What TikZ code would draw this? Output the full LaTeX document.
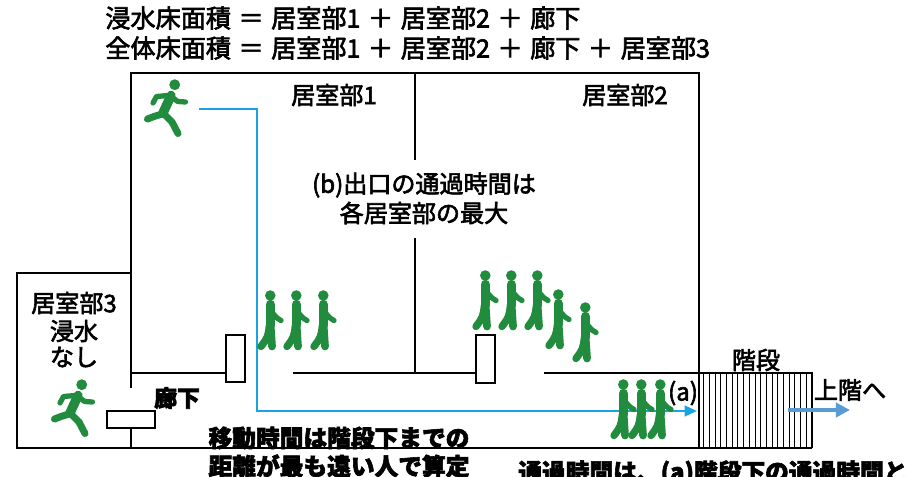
\documentclass[tikz,border=0pt]{standalone}
\usepackage{fontspec}
\setmainfont{Noto Sans CJK JP}[FakeBold=2.5]
\usetikzlibrary{arrows.meta, positioning}
\definecolor{figgreen}{HTML}{218C3D}
\definecolor{routeblue}{HTML}{1AA3E1}
\definecolor{upblue}{HTML}{5B9BD5}
\newcommand\op[1]{\hspace{0.3em}#1\hspace{0.3em}}

\tikzset{
  wall/.style={line width=1.5pt},
  door/.style={draw, line width=1.2pt, fill=white, inner sep=0pt},
  txt/.style={inner sep=0pt, font=\fontsize{13.7}{16}\selectfont},
  % walking person, origin at the foot of the back leg
  walker/.pic={
    \fill[figgreen] (-1.7,-54.5) circle[radius=3pt];
    \draw[figgreen, line width=5.4pt, line cap=round] (-1.7,-45.5) -- (-1.7,-25);
    \draw[figgreen, line width=4.4pt, line cap=round] (-1.5,-26) -- (0,-3.5);
    \draw[figgreen, line width=4.2pt, line cap=round] (-2.5,-25) .. controls (-4,-13) .. (-11,-3.5);
    \draw[figgreen, line width=3pt, line cap=round, line join=round] (0.5,-37) -- (5,-32) -- (9,-29.5);
  },
  % running person, origin at the hip
  runner/.pic={
    \fill[figgreen] (11.7,-28.3) circle[radius=3.1pt];
    \draw[figgreen, line width=5.4pt, line cap=round] (0,0) -- (8,-17.5);
    \draw[figgreen, line width=3pt, line cap=round, line join=round] (8,-16.5) -- (14.7,-11.5) -- (22.5,-11);
    \draw[figgreen, line width=3pt, line cap=round, line join=round] (5,-17.5) -- (-6.5,-16.5) -- (-10,-10);
    \draw[figgreen, line width=4pt, line cap=round, line join=round] (-1,1) -- (-9,3.5) -- (-15.5,6);
    \draw[figgreen, line width=4pt, line cap=round, line join=round] (1,1) -- (9,9) -- (15,20.5);
  },
}

\begin{document}
\begin{tikzpicture}[x=0.02cm, y=-0.02cm]
  \useasboundingbox (0,0) rectangle (911,476);
  \clip (0,0) rectangle (911,476);

  % floor areas
  \node[txt, anchor=west, font=\fontsize{14.3}{16}\selectfont] (flooded) at (105,18) {浸水床面積\op{＝}居室部1\op{＋}居室部2\op{＋}廊下};
  \node[txt, anchor=west, font=\fontsize{14.3}{16}\selectfont] (total) at (105,48) {全体床面積\op{＝}居室部1\op{＋}居室部2\op{＋}廊下\op{＋}居室部3};

  % walls
  \draw[wall] (131,388) -- (131,73) -- (699,73) -- (699,448);
  \draw[wall] (415,73) -- (415,160);
  \draw[wall] (415,238) -- (415,373);
  \draw[wall] (131,373) -- (226,373);
  \draw[wall] (293,373) -- (476,373);
  \draw[wall] (544,373) -- (812,373) -- (812,448);
  \draw[wall] (131,273) -- (17,273) -- (17,448) -- (812,448);
  \draw[wall] (131,428) -- (131,448);

  % stairs
  \foreach \k in {1,...,19}
    \draw[line width=0.5pt] ({698+5.7*\k},373) -- ({698+5.7*\k},448);

  % doors
  \node[door, minimum width=19*0.02cm, minimum height=47*0.02cm] (door1) at (235.5,358.5) {};
  \node[door, minimum width=19*0.02cm, minimum height=48*0.02cm] (door2) at (485.5,359) {};
  \node[door, minimum width=48*0.02cm, minimum height=17*0.02cm] (door3) at (131,419.5) {};

  % evacuation route
  \coordinate (start) at (199,109);
  \coordinate (bend1) at (257,109);
  \coordinate (bend2) at (257,411);
  \coordinate (stairfoot) at (697,411);
  \draw[routeblue, line width=1.4pt, -{Triangle[length=7pt, width=6pt]}] (start) -- (bend1) -- (bend2) -- (stairfoot);

  \coordinate (upfrom) at (788,410);
  \coordinate (upto) at (850,410);
  \draw[upblue, line width=2pt, -{Triangle[length=8pt, width=8pt]}] (upfrom) -- (upto);

  % people
  \pic at (163,113) {runner};
  \pic at (70,413) {runner};
  \foreach \px in {272,298,325}
    \pic at (\px,350) {walker};
  \foreach \px/\py in {487/330, 513/330, 539/330, 560/349, 587/362}
    \pic at (\px,\py) {walker};
  \foreach \px in {625,643,662}
    \pic at (\px,439) {walker};

  % labels
  \node[txt] (room1) at (334,95) {居室部1};
  \node[txt] (room2) at (625,95) {居室部2};
  \node[txt] (exitnote1) at (424,185) {(b)出口の通過時間は};
  \node[txt] (exitnote2) at (424,213) {各居室部の最大};
  \node[txt] (room3) at (74,303) {居室部3};
  \node[txt] (flood3) at (74,331) {浸水};
  \node[txt] (none3) at (74,357) {なし};
  \node[txt, font=\bfseries\fontsize{13}{16}\selectfont] (corridor) at (177,398) {廊下};
  \node[txt] (stairs) at (756,360) {階段};
  \node[txt] (upstairs) at (850,390) {上階へ};
  \node[txt] (pointa) at (683,393) {(a)};
  \node[txt, font=\bfseries\fontsize{13.5}{16}\selectfont] (movenote1) at (339,438) {移動時間は階段下までの};
  \node[txt, font=\bfseries\fontsize{13.5}{16}\selectfont] (movenote2) at (339,466) {距離が最も遠い人で算定};
  \node[txt, anchor=west, font=\bfseries\fontsize{13.5}{16}\selectfont] (passnote) at (518,473) {通過時間は、(a)階段下の通過時間と};
\end{tikzpicture}
\end{document}
